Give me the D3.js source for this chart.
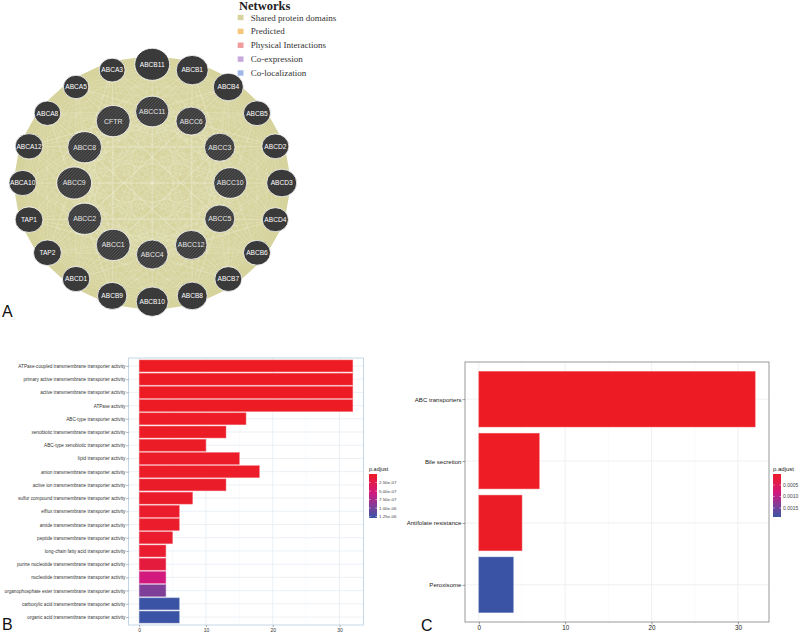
<!DOCTYPE html>
<html><head><meta charset="utf-8">
<script src="https://cdn.jsdelivr.net/npm/d3@7"></script>
<style>body{margin:0;background:#fff}svg{display:block}</style>
</head><body>
<svg id="c" width="800" height="633"></svg>
<script>
// ---------- DATA ----------
const outerNodes = ["ABCB11","ABCB1","ABCB4","ABCB5","ABCD2","ABCD3","ABCD4","ABCB6","ABCB7","ABCB8","ABCB10","ABCB9","ABCD1","TAP2","TAP1","ABCA10","ABCA12","ABCA8","ABCA5","ABCA3"];
const outerSizes = [16,14.7,13.8,12.4,12.4,13.8,12,12.4,12.4,13.8,14.7,13.5,12.6,12.8,12.8,12.6,12.7,12.2,11.7,11.9];
const innerNodes = ["ABCC11","ABCC6","ABCC3","ABCC10","ABCC5","ABCC12","ABCC4","ABCC1","ABCC2","ABCC9","ABCC8","CFTR"];
const innerSizes = [15.3,14,14,15.3,13.8,14.5,14.5,15.6,15.6,16,15.6,15.6];
const networkTypes = ["Shared protein domains","Predicted","Physical Interactions","Co-expression","Co-localization"];
const networkColors = ["#d6d49c","#f6c67c","#ee9c9c","#c8a9dc","#a0b8e8"];

const goTerms = [
 "ATPase-coupled transmembrane transporter activity",
 "primary active transmembrane transporter activity",
 "active transmembrane transporter activity",
 "ATPase activity",
 "ABC-type transporter activity",
 "xenobiotic transmembrane transporter activity",
 "ABC-type xenobiotic transporter activity",
 "lipid transporter activity",
 "anion transmembrane transporter activity",
 "active ion transmembrane transporter activity",
 "sulfur compound transmembrane transporter activity",
 "efflux transmembrane transporter activity",
 "amide transmembrane transporter activity",
 "peptide transmembrane transporter activity",
 "long-chain fatty acid transporter activity",
 "purine nucleotide transmembrane transporter activity",
 "nucleotide transmembrane transporter activity",
 "organophosphate ester transmembrane transporter activity",
 "carboxylic acid transmembrane transporter activity",
 "organic acid transmembrane transporter activity"];
const goCounts = [32,32,32,32,16,13,10,15,18,13,8,6,6,5,4,4,4,4,6,6];
const goPadj = [1e-9,1e-9,1.5e-9,2e-9,1e-8,1.5e-8,2e-8,2.5e-8,3e-8,3.5e-8,4e-8,5e-8,5e-8,6e-8,7e-8,1.6e-7,5.5e-7,9.5e-7,1.29e-6,1.29e-6];
const goLegendTicks = [2.5e-7,5e-7,7.5e-7,1e-6,1.25e-6];

const keggTerms = ["ABC transporters","Bile secretion","Antifolate resistance","Peroxisome"];
const keggCounts = [32,7,5,4];
const keggPadj = [2e-5,3e-5,5e-5,1.89e-3];
const keggLegendTicks = [0.0005,0.0010,0.0015];

const countTicks = [0,10,20,30];
const minorTicks = [5,15,25];

// colour ramp stops (red -> magenta -> purple -> blue)
const rampStops = [0,0.43,0.74,1];
const rampColors = ["#ED1C24","#D2197E","#7E3F98","#3A53A4"];

// ---------- SETUP ----------
const svg = d3.select("#c");
const defs = svg.append("defs");

// ---------- PANEL A: network ----------
const cx = 152.2, cy = 183;
const outerAngle = d3.scaleLinear().domain([0, outerNodes.length]).range([0, 2*Math.PI]);
const innerAngle = d3.scaleLinear().domain([0, innerNodes.length]).range([0, 2*Math.PI]);
const outerR = {x:129.5, y:118.7}, innerR = {x:78, y:71.5};
const nodes = [];
outerNodes.forEach((n,i)=>{const a=outerAngle(i); nodes.push({name:n, r:outerSizes[i], inner:false, x:cx+outerR.x*Math.sin(a), y:cy-outerR.y*Math.cos(a)});});
innerNodes.forEach((n,i)=>{const a=innerAngle(i); nodes.push({name:n, r:innerSizes[i], inner:true, x:cx+innerR.x*Math.sin(a), y:cy-innerR.y*Math.cos(a)});});

const pat = defs.append("pattern").attr("id","hatch").attr("patternUnits","userSpaceOnUse")
  .attr("width",2.2).attr("height",2.2).attr("patternTransform","rotate(45)");
pat.append("rect").attr("width",2.2).attr("height",2.2).attr("fill","#3a3a3a");
pat.append("rect").attr("width",0.7).attr("height",2.2).attr("fill","#575757");

const gA = svg.append("g");
const hull = d3.polygonHull(nodes.filter(d=>!d.inner).map(d=>[cx+(d.x-cx)*1.05, cy+(d.y-cy)*1.05]));
gA.append("path").attr("d","M"+hull.join("L")+"Z").attr("fill","#d6d39d").attr("stroke","#d6d39d").attr("stroke-width",6).attr("stroke-linejoin","round");
const edges = d3.merge(nodes.map((a,i)=>nodes.slice(i+1).map(b=>[a,b])));
gA.append("g").selectAll("line").data(edges).join("line")
  .attr("x1",d=>d[0].x).attr("y1",d=>d[0].y).attr("x2",d=>d[1].x).attr("y2",d=>d[1].y)
  .attr("stroke","#f7f6e6").attr("stroke-width",0.35).attr("stroke-opacity",0.4);
const nodeG = gA.append("g").selectAll("g").data(nodes).join("g").attr("transform",d=>`translate(${d.x},${d.y})`);
nodeG.append("ellipse").attr("rx",d=>d.r*1.09).attr("ry",d=>d.r)
  .attr("fill",d=>d.inner?"url(#hatch)":"#3a3a3a").attr("stroke","#ffffff").attr("stroke-width",0.8);
nodeG.append("text").text(d=>d.name).attr("text-anchor","middle").attr("dy","0.35em")
  .attr("font-family","Liberation Sans, Arial, sans-serif").attr("font-size",d=>d.inner?6.9:6.6)
  .attr("fill",d=>d.inner?"#e6e6e6":"#ffffff");

// legend
const lg = svg.append("g").attr("font-family","Liberation Serif, Times New Roman, serif");
lg.append("text").attr("x",239).attr("y",10).attr("font-size",12.5).attr("font-weight","bold").attr("fill","#222").text("Networks");
const ly = d3.scalePoint().domain(networkTypes).range([17.5,73]);
lg.selectAll("rect").data(networkTypes).join("rect").attr("x",237.7).attr("y",d=>ly(d)-2.7).attr("width",5.8).attr("height",5.4)
  .attr("fill",(d,i)=>networkColors[i]);
lg.selectAll("text.item").data(networkTypes).join("text").attr("class","item").attr("x",250.7).attr("y",d=>ly(d)+3)
  .attr("font-size",9).attr("fill","#333").text(d=>d);

// panel letters
const letters = [["A",2,317],["B",2,630],["C",421,631]];
svg.selectAll("text.letter").data(letters).join("text").attr("class","letter")
  .attr("x",d=>d[1]).attr("y",d=>d[2]).text(d=>d[0])
  .attr("font-family","Liberation Sans, Arial, sans-serif").attr("font-size",16).attr("fill","#111");

// ---------- generic bar panel ----------
function barPanel(o){
  const g = svg.append("g");
  const x = d3.scaleLinear().domain([-1.6,33.6]).range([o.x0,o.x1]);
  const y = d3.scalePoint().domain(o.terms).range([o.y0,o.y1]).padding(0.6);
  const frac = d3.scaleLinear().domain(o.colDomain).range([0,1]).clamp(true);
  const ramp = d3.scaleLinear().domain(rampStops).range(rampColors).interpolate(d3.interpolateRgb);
  const col = v => ramp(frac(v));
  // grid
  g.selectAll("line.minor").data(minorTicks).join("line").attr("x1",x).attr("x2",x).attr("y1",o.y0).attr("y2",o.y1)
    .attr("stroke",o.gridMinor).attr("stroke-width",0.5);
  g.selectAll("line.major").data(countTicks).join("line").attr("x1",x).attr("x2",x).attr("y1",o.y0).attr("y2",o.y1)
    .attr("stroke",o.gridMajor).attr("stroke-width",0.8);
  g.selectAll("line.hy").data(o.terms).join("line").attr("x1",o.x0).attr("x2",o.x1).attr("y1",y).attr("y2",y)
    .attr("stroke",o.gridMajor).attr("stroke-width",0.8);
  // bars
  const bh = y.step()*0.9;
  g.selectAll("rect.bar").data(o.terms).join("rect").attr("class","bar")
    .attr("x",x(0)).attr("y",d=>y(d)-bh/2).attr("height",bh)
    .attr("width",(d,i)=>x(o.counts[i])-x(0))
    .attr("fill",(d,i)=>col(o.padj[i]))
    .attr("stroke",(d,i)=>d3.interpolateRgb(col(o.padj[i]),"#fff")(0.35)).attr("stroke-width",0.5);
  // border
  g.append("rect").attr("x",o.x0).attr("y",o.y0).attr("width",o.x1-o.x0).attr("height",o.y1-o.y0)
    .attr("fill","none").attr("stroke",o.border).attr("stroke-width",0.9);
  // axes
  const ay = g.append("g").attr("transform",`translate(${o.x0},0)`).call(d3.axisLeft(y).tickSize(o.tick).tickPadding(1));
  ay.select(".domain").remove();
  ay.selectAll("line").attr("stroke",o.tickColor).attr("stroke-width",0.5);
  ay.selectAll("text").attr("font-family","Liberation Sans, Arial, sans-serif").attr("font-size",o.yFont).attr("fill",o.textColor);
  const ax = g.append("g").attr("transform",`translate(0,${o.y1})`).call(d3.axisBottom(x).tickValues(countTicks).tickSize(o.tick).tickPadding(1));
  ax.select(".domain").remove();
  ax.selectAll("line").attr("stroke",o.tickColor).attr("stroke-width",0.5);
  ax.selectAll("text").attr("font-family","Liberation Sans, Arial, sans-serif").attr("font-size",o.xFont).attr("fill",o.textColor);
  // legend
  const lgG = g.append("g");
  const gid = "grad"+o.id;
  const grad = defs.append("linearGradient").attr("id",gid).attr("x1",0).attr("y1",0).attr("x2",0).attr("y2",1);
  d3.range(0,1.0001,0.05).forEach(t=>grad.append("stop").attr("offset",t).attr("stop-color",ramp(t)));
  const ls = d3.scaleLinear().domain(o.colDomain).range([o.lgY0,o.lgY1]);
  lgG.append("text").attr("x",o.lgX).attr("y",o.lgY0-3).text("p.adjust")
    .attr("font-family","Liberation Sans, Arial, sans-serif").attr("font-size",o.lgTitle).attr("fill","#222");
  lgG.append("rect").attr("x",o.lgX).attr("y",o.lgY0).attr("width",8).attr("height",o.lgY1-o.lgY0).attr("fill",`url(#${gid})`);
  lgG.selectAll("line").data(o.lgTicks).join("line").attr("x1",o.lgX).attr("x2",o.lgX+1.6).attr("y1",ls).attr("y2",ls).attr("stroke","#fff").attr("stroke-width",0.5);
  lgG.selectAll("line.r").data(o.lgTicks).join("line").attr("class","r").attr("x1",o.lgX+6.4).attr("x2",o.lgX+8).attr("y1",ls).attr("y2",ls).attr("stroke","#fff").attr("stroke-width",0.5);
  lgG.selectAll("text.t").data(o.lgTicks).join("text").attr("class","t").attr("x",o.lgX+10).attr("y",ls).attr("dy","0.35em")
    .text(o.lgFmt).attr("font-family","Liberation Sans, Arial, sans-serif").attr("font-size",o.lgFont).attr("fill","#444");
}

const sciFmt = v => { const s = d3.format(".2e")(v); return s.replace(/e([+-])(\d)$/, "e$10$2"); };

barPanel({id:"B", terms:goTerms, counts:goCounts, padj:goPadj, colDomain:[0,1.29e-6],
  x0:128.5, x1:363.5, y0:358, y1:625, gridMajor:"#e6edf4", gridMinor:"#f1f5f9", border:"#bfd2e2",
  tick:2.2, tickColor:"#666", yFont:4.65, xFont:5, textColor:"#333",
  lgX:369, lgY0:474, lgY1:518, lgTicks:goLegendTicks, lgFmt:sciFmt, lgTitle:5.5, lgFont:4.4});

barPanel({id:"C", terms:keggTerms, counts:keggCounts, padj:keggPadj, colDomain:[2e-5,1.89e-3],
  x0:465, x1:769, y0:362, y1:622, gridMajor:"#ececec", gridMinor:"#f5f5f5", border:"#8f8f8f",
  tick:2.5, tickColor:"#444", yFont:6.1, xFont:6.3, textColor:"#222",
  lgX:773, lgY0:474, lgY1:517, lgTicks:keggLegendTicks, lgFmt:d3.format(".4f"), lgTitle:6, lgFont:5});
</script>
</body></html>
